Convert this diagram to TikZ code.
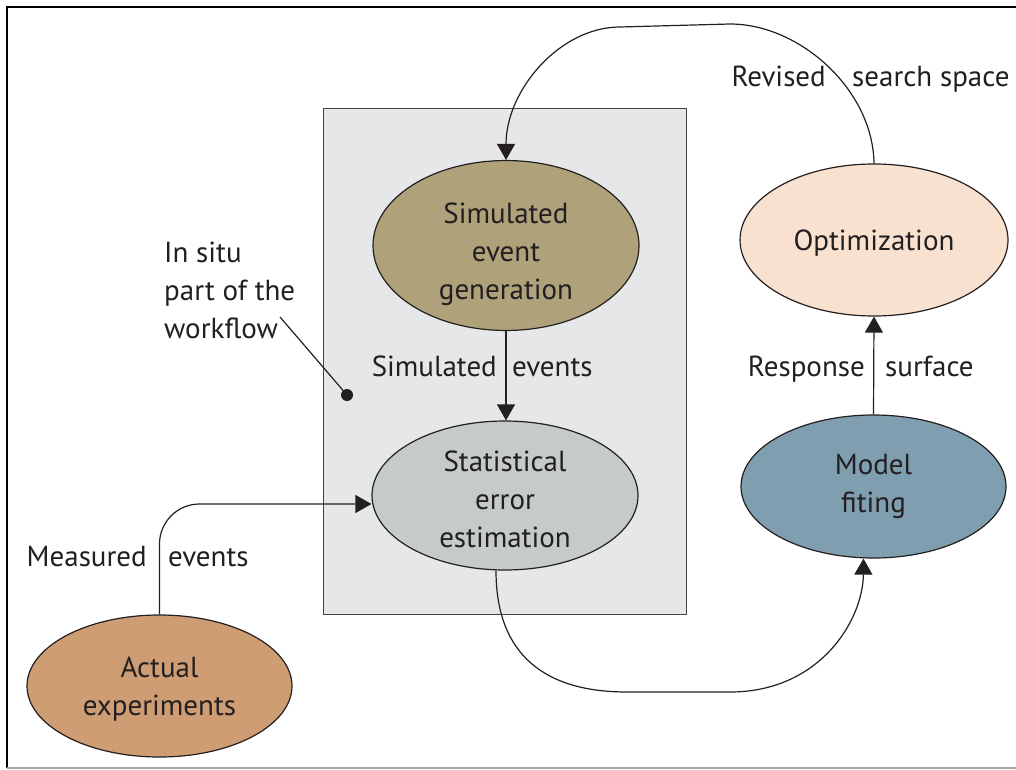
\documentclass[tikz,border=0pt]{standalone}
\usepackage{fontspec}
\setmainfont{PT Sans}
\usetikzlibrary{shapes.geometric,arrows.meta}
\definecolor{ink}{HTML}{231F20}
\definecolor{boxgrey}{HTML}{E6E7E9}
\definecolor{olive}{HTML}{AFA27A}
\definecolor{statgrey}{HTML}{C5CBC6}
\definecolor{peach}{HTML}{F8E1CF}
\definecolor{steel}{HTML}{7F9EB0}
\definecolor{tan}{HTML}{CE9D73}
\tikzset{
  txt/.style={font=\fontsize{29}{38}\selectfont, text=ink, inner sep=0pt},
  blob/.style={ellipse, draw=ink, line width=1.2pt, inner sep=0pt, align=center,
    font=\fontsize{29}{38}\selectfont, text=ink},
  conn/.style={draw=ink, line width=1.2pt},
  arr/.style={conn, -{Triangle[length=16pt,width=18pt]}},
}
\begin{document}
\begin{tikzpicture}[x=1pt,y=-1pt]
\useasboundingbox (0,0) rectangle (1016,770);
% outer frame
\draw[line width=2pt, black] (7,768) -- (7,7) -- (1016,7);
\draw[line width=1.5pt, gray!70] (7,768) -- (1016,768);
% in-situ box
\node[draw=ink!85, line width=1.2pt, fill=boxgrey, minimum width=363pt, minimum height=506pt,
  anchor=north west, inner sep=0pt] (box) at (323,108) {};
% ellipses
\node[blob, fill=olive, minimum width=266pt, minimum height=143pt] (gen) at (506,245.5)
  {\rule{0pt}{38pt}Simulated\\event\\generation};
\node[blob, fill=statgrey, minimum width=266pt, minimum height=145pt] (stat) at (505,495.5)
  {\rule{0pt}{29pt}Statistical\\error\\estimation};
\node[blob, fill=peach, minimum width=268pt, minimum height=152pt] (opt) at (874,240)
  {\rule{0pt}{27pt}Optimization};
\node[blob, fill=steel, minimum width=265pt, minimum height=143pt] (fit) at (873.5,486.5)
  {Model\\fiting};
\node[blob, fill=tan, minimum width=265pt, minimum height=142pt] (act) at (159.5,686)
  {\rule{0pt}{26pt}Actual\\experiments};
% callout
\node[txt, align=left, anchor=base west] (insitu) at (164,338) {In situ\\part of the\\workflow};
\node[circle, fill=ink, inner sep=0pt, minimum size=12pt] (dot) at (347,395) {};
\coordinate (cl) at (280,317);
\draw[conn] (cl) -- (dot.center);
% connectors
\draw[arr, rounded corners=40pt] (act.north) |- ([yshift=-8.5pt]stat.west);
\draw[arr] (gen.south) -- (gen.south |- stat.north);
\coordinate (b1) at (627,692);
\coordinate (b2) at (730,692);
\draw[arr] ([xshift=-9pt]stat.south) .. controls (496,655) and (545,692) .. (b1) -- (b2)
  .. controls (820,692) and (863,620) .. ([xshift=-10pt]fit.south);
\draw[arr] (fit.north) -- (opt.south);
\coordinate (t1) at (730,24);
\coordinate (t2) at (620,27);
\draw[arr] (opt.north) .. controls (873,90) and (800,24) .. (t1) -- (t2)
  .. controls (560,27) and (506,90) .. (gen.north);
% labels
\node[txt, anchor=base east] (me1) at (147,566) {Measured};
\node[txt, anchor=base west] (me2) at (168,566) {events};
\node[txt, anchor=base east] (se1) at (497,376) {Simulated};
\node[txt, anchor=base west] (se2) at (512,376) {events};
\node[txt, anchor=base east] (rs1) at (865,376) {Response};
\node[txt, anchor=base west] (rs2) at (885,376) {surface};
\node[txt, anchor=base east] (rv1) at (826,87) {Revised};
\node[txt, anchor=base west] (rv2) at (852,87) {search space};
\end{tikzpicture}
\end{document}
